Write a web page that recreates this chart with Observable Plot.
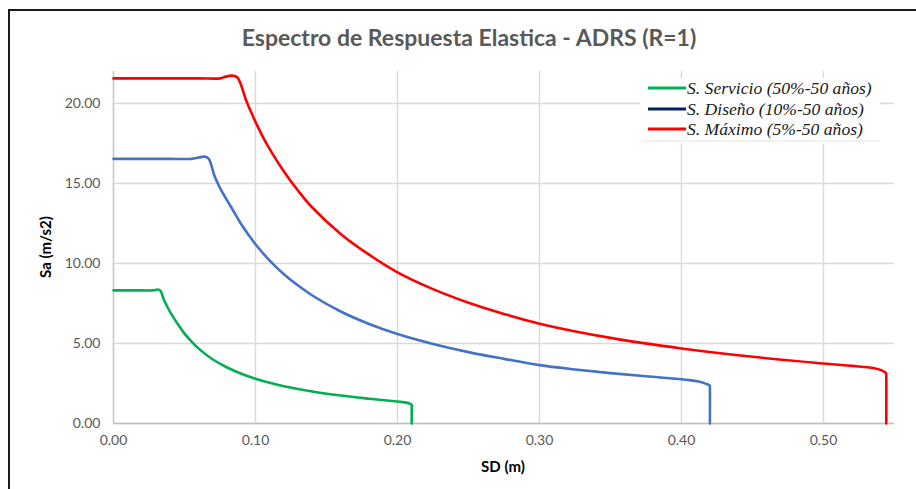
<!DOCTYPE html>
<html>
<head>
<meta charset="utf-8">
<script src="https://cdn.jsdelivr.net/npm/d3@7"></script>
<script src="https://cdn.jsdelivr.net/npm/@observablehq/plot@0.6"></script>
<style>
  html, body { margin: 0; padding: 0; background: #ffffff; }
  #chart { width: 916px; height: 489px; overflow: hidden; }
</style>
</head>
<body>
<div id="chart"></div>
<script>
const chartTitle = "Espectro de Respuesta Elastica - ADRS (R=1)";
const xLabel = "SD (m)";
const yLabel = "Sa (m/s2)";

const seriesNames = ["S. Servicio (50%-50 años)", "S. Diseño (10%-50 años)", "S. Máximo (5%-50 años)"];
const lineColors = ["#00B050", "#4472C4", "#FF0000"];
const legendColors = ["#00B050", "#002060", "#FF0000"];

const xTicks = [0, 0.1, 0.2, 0.3, 0.4, 0.5];
const yTicks = [0, 5, 10, 15, 20];

// S. Servicio
const sdServicio = [0.000, 0.020, 0.028, 0.031, 0.033, 0.035, 0.037, 0.040, 0.045, 0.050, 0.055, 0.060, 0.070, 0.080, 0.090, 0.100, 0.110, 0.120, 0.140, 0.160, 0.180, 0.200, 0.205, 0.208, 0.2099, 0.2100, 0.2100];
const saServicio = [8.32, 8.32, 8.32, 8.37, 8.30, 7.85, 7.45, 6.95, 6.25, 5.62, 5.12, 4.68, 4.00, 3.50, 3.11, 2.80, 2.54, 2.33, 2.00, 1.75, 1.55, 1.37, 1.32, 1.26, 1.17, 1.00, 0.00];

// S. Diseño
const sdDiseno = [0.000, 0.040, 0.055, 0.060, 0.064, 0.067, 0.069, 0.071, 0.073, 0.076, 0.080, 0.085, 0.090, 0.095, 0.100, 0.110, 0.120, 0.130, 0.140, 0.160, 0.180, 0.200, 0.225, 0.250, 0.275, 0.300, 0.325, 0.350, 0.375, 0.400, 0.405, 0.412, 0.417, 0.4199, 0.4200, 0.4200];
const saDiseno = [16.54, 16.54, 16.54, 16.62, 16.68, 16.55, 16.10, 15.50, 15.10, 14.55, 13.95, 13.20, 12.45, 11.80, 11.20, 10.18, 9.33, 8.62, 8.00, 7.00, 6.22, 5.59, 4.97, 4.46, 4.04, 3.65, 3.38, 3.15, 2.95, 2.77, 2.72, 2.62, 2.49, 2.36, 2.20, 0.00];

// S. Máximo
const sdMaximo = [0.000, 0.060, 0.075, 0.079, 0.083, 0.087, 0.089, 0.091, 0.093, 0.095, 0.098, 0.100, 0.105, 0.110, 0.120, 0.130, 0.140, 0.160, 0.180, 0.200, 0.225, 0.250, 0.275, 0.300, 0.350, 0.400, 0.450, 0.500, 0.520, 0.535, 0.541, 0.5441, 0.5442, 0.5442];
const saMaximo = [21.57, 21.57, 21.57, 21.68, 21.74, 21.65, 21.35, 20.85, 20.30, 19.85, 19.25, 18.85, 17.95, 17.15, 15.75, 14.55, 13.50, 11.85, 10.55, 9.45, 8.40, 7.55, 6.85, 6.24, 5.35, 4.69, 4.17, 3.75, 3.60, 3.47, 3.32, 3.13, 2.95, 0.00];

const seriesSd = [sdServicio, sdDiseno, sdMaximo];
const seriesSa = [saServicio, saDiseno, saMaximo];

const rows = [];
seriesNames.forEach((name, i) => {
  seriesSd[i].forEach((sd, j) => rows.push({sd, sa: seriesSa[i][j], serie: name}));
});

const fmt = d3.format(".2f");

const chart = Plot.plot({
  width: 916,
  height: 489,
  marginLeft: 113,
  marginRight: 22,
  marginTop: 71,
  marginBottom: 66,
  style: {fontFamily: "Lato, 'Open Sans', sans-serif", fontSize: "14px", background: "#ffffff", color: "#595959"},
  x: {domain: [0, 0.55]},
  y: {domain: [0, 22]},
  color: {domain: seriesNames, range: lineColors},
  marks: [
    Plot.gridX(xTicks, {stroke: "#d9d9d9", strokeOpacity: 1, strokeWidth: 1.4}),
    Plot.gridY(yTicks, {stroke: "#d9d9d9", strokeOpacity: 1, strokeWidth: 1.4}),
    Plot.ruleY([0], {stroke: "#bfbfbf", strokeWidth: 1.6}),
    Plot.ruleX([0], {stroke: "#c8c8c8", strokeWidth: 1.4}),
    Plot.axisX(xTicks, {tickSize: 0, tickPadding: 12, tickFormat: fmt, fill: "#595959", label: null}),
    Plot.axisY(yTicks, {tickSize: 0, tickPadding: 13, tickFormat: fmt, fill: "#595959", label: null}),
    Plot.line(rows, {x: "sd", y: "sa", z: "serie", stroke: "serie", strokeWidth: 2.6, curve: "catmull-rom"})
  ]
});

document.getElementById("chart").appendChild(chart);

const svg = d3.select(chart);

// outer frame (top and left edges visible)
svg.append("path")
  .attr("d", "M9,489 L9,10 L916,10")
  .attr("fill", "none")
  .attr("stroke", "#1a1a1a")
  .attr("stroke-width", 2);

// title
svg.append("text")
  .attr("x", 469).attr("y", 46)
  .attr("text-anchor", "middle")
  .attr("font-family", "Lato, 'Open Sans', sans-serif")
  .attr("font-weight", 700)
  .attr("font-size", 23)
  .attr("fill", "#595959")
  .text(chartTitle);

// axis titles
svg.append("text")
  .attr("x", 503).attr("y", 472)
  .attr("text-anchor", "middle")
  .attr("font-family", "Lato, 'Open Sans', sans-serif")
  .attr("font-weight", 700)
  .attr("font-size", 15)
  .attr("fill", "#000000")
  .text(xLabel);

svg.append("text")
  .attr("transform", "translate(51,247) rotate(-90)")
  .attr("text-anchor", "middle")
  .attr("font-family", "Lato, 'Open Sans', sans-serif")
  .attr("font-weight", 700)
  .attr("font-size", 15)
  .attr("fill", "#000000")
  .text(yLabel);

// legend
const lg = svg.append("g");
lg.append("rect")
  .attr("x", 640).attr("y", 78).attr("width", 240).attr("height", 66)
  .attr("fill", "#ffffff");
lg.append("line")
  .attr("x1", 641).attr("x2", 880).attr("y1", 141).attr("y2", 141)
  .attr("stroke", "#e3e3e3").attr("stroke-width", 1);
const rowY = [88, 109, 129];
seriesNames.forEach((name, i) => {
  lg.append("line")
    .attr("x1", 648).attr("x2", 686)
    .attr("y1", rowY[i]).attr("y2", rowY[i])
    .attr("stroke", legendColors[i]).attr("stroke-width", 3.2);
  lg.append("text")
    .attr("x", 687).attr("y", rowY[i] + 6)
    .attr("text-anchor", "start")
    .attr("font-family", "'Liberation Serif', 'DejaVu Serif', serif")
    .attr("font-style", "italic")
    .attr("font-size", 17.6)
    .attr("fill", "#1a1a1a")
    .text(name);
});
</script>
</body>
</html>
